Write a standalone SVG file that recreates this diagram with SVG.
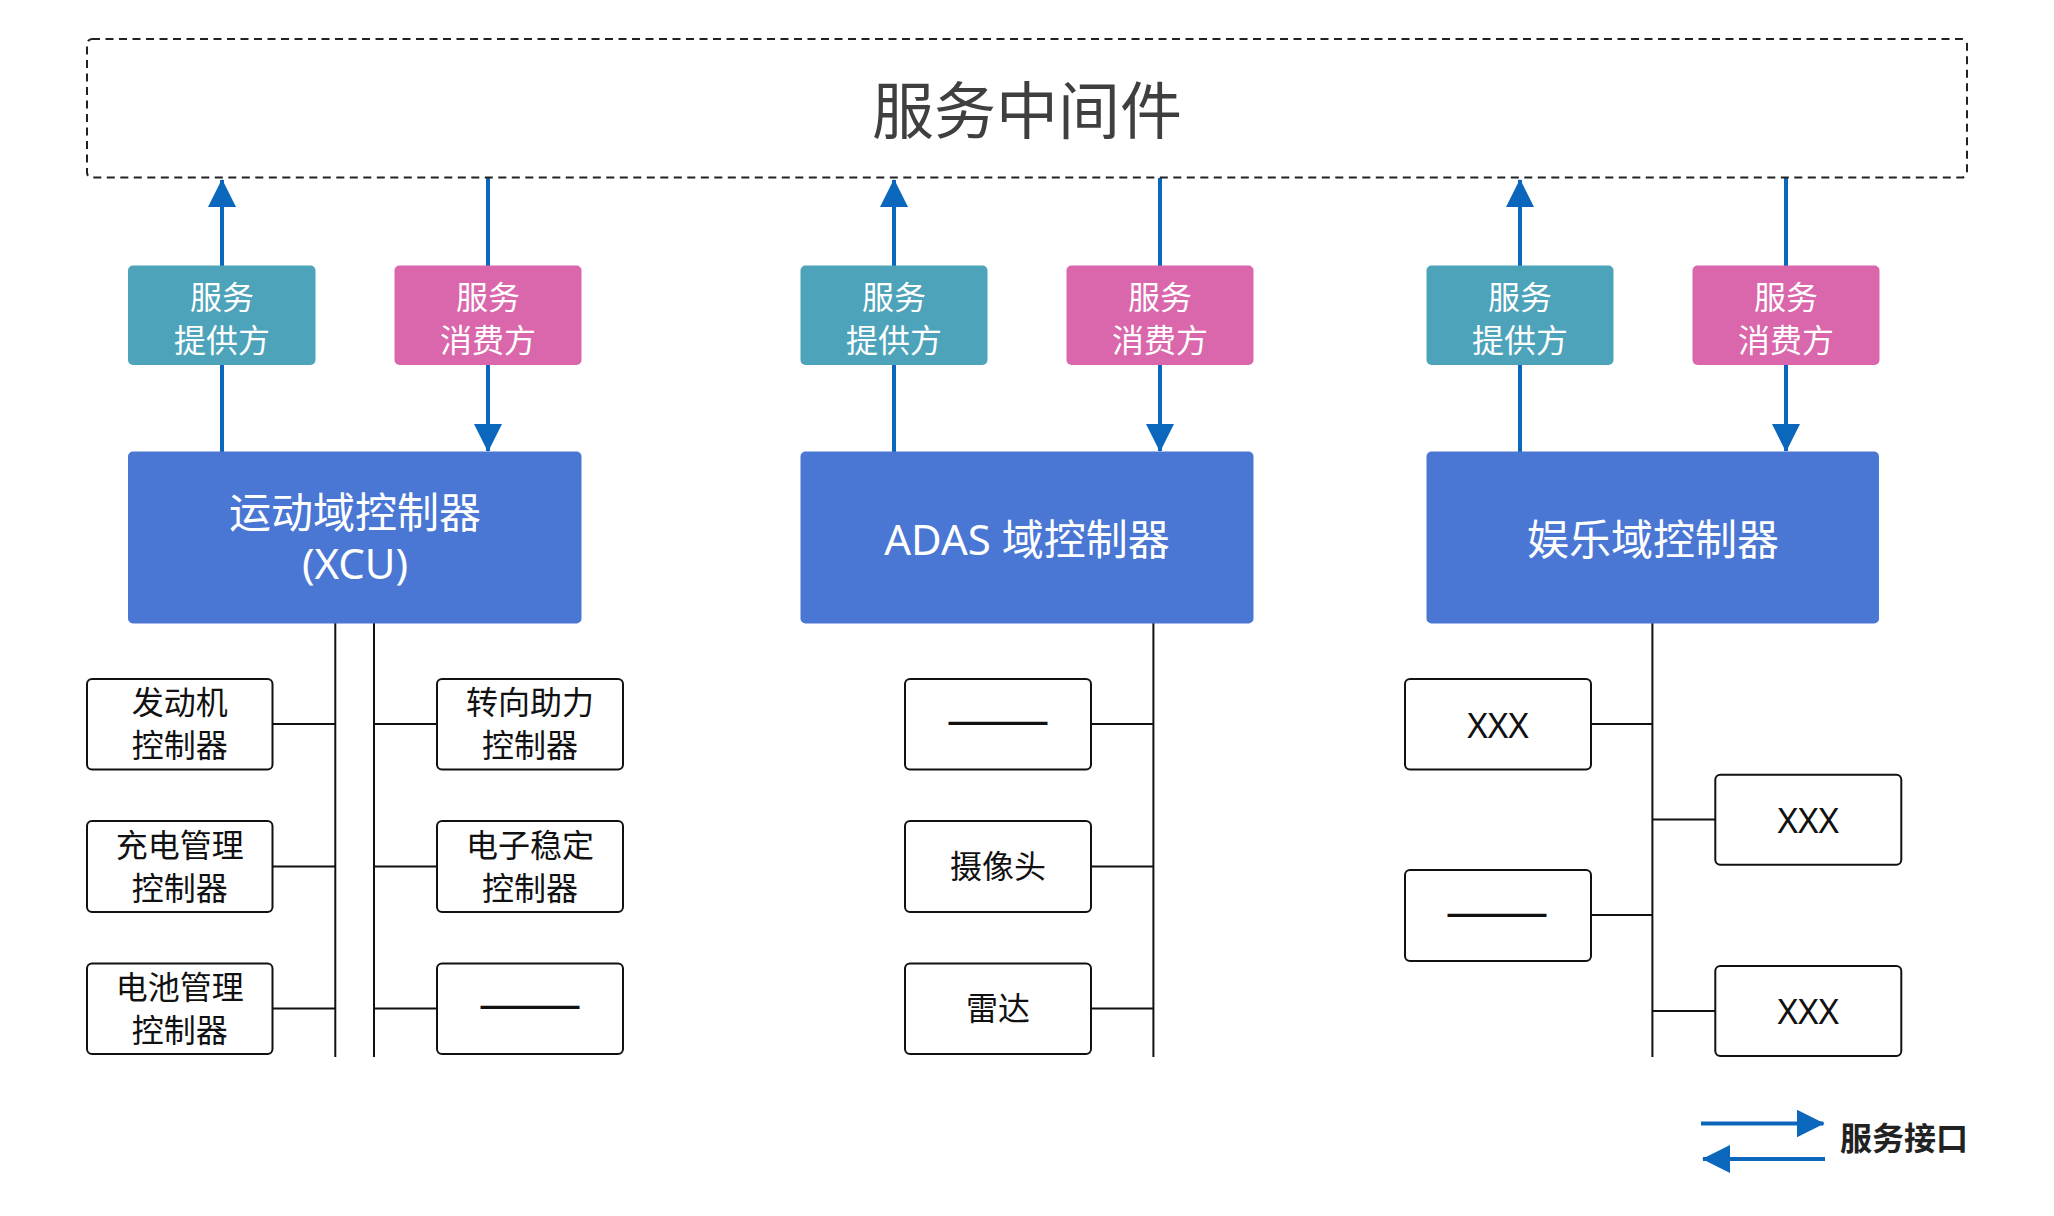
<svg xmlns="http://www.w3.org/2000/svg" width="2054" height="1216" viewBox="0 0 2054 1216">
<defs>
<style>
text{font-family:"Noto Sans","Noto Sans CJK SC","DejaVu Sans",sans-serif;text-anchor:middle}
.t-title{font-size:62px;fill:#3f3f3f;font-family:"Noto Sans CJK SC",sans-serif}
.t-tag{font-size:32px;fill:#ffffff;font-family:"Noto Sans CJK SC",sans-serif}
.t-ctl{font-size:42px;fill:#ffffff}
.t-box{font-size:32px;fill:#111111}
.t-xxx{font-size:35px;fill:#111111}
.t-dash{font-size:34px;fill:#111111;font-weight:bold;font-family:"Noto Sans CJK SC",sans-serif}
.t-leg{font-size:32px;fill:#222222;font-weight:bold;font-family:"Noto Sans CJK SC",sans-serif}
.prov{fill:#4da3b9}
.cons{fill:#da67ab}
.ctl{fill:#4a77d4}
.box{fill:#ffffff;stroke:#111111;stroke-width:2}
.svc{stroke:#0a67bc;stroke-width:4;fill:none}
.bus{stroke:#111111;stroke-width:2;fill:none}
</style>
<marker id="ah" markerUnits="userSpaceOnUse" markerWidth="28" markerHeight="28" viewBox="0 0 28 28" refX="27" refY="14" orient="auto">
<path d="M0,0 L28,14 L0,28 Z" fill="#0a67bc"/>
</marker>
</defs>
<rect width="2054" height="1216" fill="#ffffff"/>

<g id="connectors">
<line class="svc" x1="222" y1="452" x2="222" y2="180" marker-end="url(#ah)"/>
<line class="svc" x1="488" y1="178" x2="488" y2="451" marker-end="url(#ah)"/>
<line class="svc" x1="894" y1="452" x2="894" y2="180" marker-end="url(#ah)"/>
<line class="svc" x1="1160" y1="178" x2="1160" y2="451" marker-end="url(#ah)"/>
<line class="svc" x1="1520" y1="452" x2="1520" y2="180" marker-end="url(#ah)"/>
<line class="svc" x1="1786" y1="178" x2="1786" y2="451" marker-end="url(#ah)"/>
<line class="bus" x1="335.3" y1="623" x2="335.3" y2="1057"/>
<line class="bus" x1="374" y1="623" x2="374" y2="1057"/>
<line class="bus" x1="272.5" y1="724" x2="335.3" y2="724"/>
<line class="bus" x1="272.5" y1="866.5" x2="335.3" y2="866.5"/>
<line class="bus" x1="272.5" y1="1008.5" x2="335.3" y2="1008.5"/>
<line class="bus" x1="374" y1="724" x2="437" y2="724"/>
<line class="bus" x1="374" y1="866.5" x2="437" y2="866.5"/>
<line class="bus" x1="374" y1="1008.5" x2="437" y2="1008.5"/>
<line class="bus" x1="1153.4" y1="623" x2="1153.4" y2="1057"/>
<line class="bus" x1="1091" y1="724" x2="1153.4" y2="724"/>
<line class="bus" x1="1091" y1="866.5" x2="1153.4" y2="866.5"/>
<line class="bus" x1="1091" y1="1008.5" x2="1153.4" y2="1008.5"/>
<line class="bus" x1="1652.4" y1="623" x2="1652.4" y2="1057"/>
<line class="bus" x1="1591" y1="724" x2="1652.4" y2="724"/>
<line class="bus" x1="1652.4" y1="819.5" x2="1715.3" y2="819.5"/>
<line class="bus" x1="1591" y1="915" x2="1652.4" y2="915"/>
<line class="bus" x1="1652.4" y1="1011" x2="1715.3" y2="1011"/>
</g>

<g id="middleware">
<rect x="87" y="39" width="1880" height="138.5" rx="5" fill="none" stroke="#222222" stroke-width="2" stroke-dasharray="8 5.5"/>
<text class="t-title" x="1027" y="134">服务中间件</text>
</g>

<g id="provider-1"><rect class="prov" x="128" y="265.5" width="187.5" height="99.5" rx="5"/><text class="t-tag"><tspan x="222" y="309">服务</tspan><tspan x="222" y="352">提供方</tspan></text></g>
<g id="consumer-1"><rect class="cons" x="394.5" y="265.5" width="187" height="99.5" rx="5"/><text class="t-tag"><tspan x="488" y="309">服务</tspan><tspan x="488" y="352">消费方</tspan></text></g>
<g id="provider-2"><rect class="prov" x="800.5" y="265.5" width="187" height="99.5" rx="5"/><text class="t-tag"><tspan x="894" y="309">服务</tspan><tspan x="894" y="352">提供方</tspan></text></g>
<g id="consumer-2"><rect class="cons" x="1066.5" y="265.5" width="187" height="99.5" rx="5"/><text class="t-tag"><tspan x="1160" y="309">服务</tspan><tspan x="1160" y="352">消费方</tspan></text></g>
<g id="provider-3"><rect class="prov" x="1426.5" y="265.5" width="187" height="99.5" rx="5"/><text class="t-tag"><tspan x="1520" y="309">服务</tspan><tspan x="1520" y="352">提供方</tspan></text></g>
<g id="consumer-3"><rect class="cons" x="1692.5" y="265.5" width="187" height="99.5" rx="5"/><text class="t-tag"><tspan x="1786" y="309">服务</tspan><tspan x="1786" y="352">消费方</tspan></text></g>

<g id="ctl-xcu"><rect class="ctl" x="128" y="451.5" width="453.5" height="172" rx="5"/><text class="t-ctl"><tspan x="355" y="528">运动域控制器</tspan><tspan x="355" y="579">(XCU)</tspan></text></g>
<g id="ctl-adas"><rect class="ctl" x="800.5" y="451.5" width="453" height="172" rx="5"/><text class="t-ctl" x="1027" y="555">ADAS 域控制器</text></g>
<g id="ctl-ent"><rect class="ctl" x="1426.5" y="451.5" width="452.5" height="172" rx="5"/><text class="t-ctl" x="1653" y="555">娱乐域控制器</text></g>

<g id="engine-ecu"><rect class="box" x="87" y="679" width="185.5" height="90.5" rx="5"/><text class="t-box"><tspan x="179.7" y="714">发动机</tspan><tspan x="179.7" y="757">控制器</tspan></text></g>
<g id="charge-ecu"><rect class="box" x="87" y="821" width="185.5" height="91" rx="5"/><text class="t-box"><tspan x="179.7" y="856.5">充电管理</tspan><tspan x="179.7" y="899.5">控制器</tspan></text></g>
<g id="battery-ecu"><rect class="box" x="87" y="963.5" width="185.5" height="90.5" rx="5"/><text class="t-box"><tspan x="179.7" y="998.5">电池管理</tspan><tspan x="179.7" y="1041.5">控制器</tspan></text></g>
<g id="steer-ecu"><rect class="box" x="437" y="679" width="186" height="90.5" rx="5"/><text class="t-box"><tspan x="530" y="714">转向助力</tspan><tspan x="530" y="757">控制器</tspan></text></g>
<g id="esc-ecu"><rect class="box" x="437" y="821" width="186" height="91" rx="5"/><text class="t-box"><tspan x="530" y="856.5">电子稳定</tspan><tspan x="530" y="899.5">控制器</tspan></text></g>
<g id="xcu-other"><rect class="box" x="437" y="963.5" width="186" height="90.5" rx="5"/><text class="t-dash" x="530" y="1017" textLength="103" lengthAdjust="spacingAndGlyphs">———</text></g>

<g id="adas-other"><rect class="box" x="905" y="679" width="186" height="90.5" rx="5"/><text class="t-dash" x="998" y="733" textLength="103" lengthAdjust="spacingAndGlyphs">———</text></g>
<g id="camera"><rect class="box" x="905" y="821" width="186" height="91" rx="5"/><text class="t-box" x="998" y="878">摄像头</text></g>
<g id="radar"><rect class="box" x="905" y="963.5" width="186" height="90.5" rx="5"/><text class="t-box" x="998" y="1020">雷达</text></g>

<g id="ent-a"><rect class="box" x="1405" y="679" width="186" height="90.5" rx="5"/><text class="t-xxx" x="1498" y="737.5">XXX</text></g>
<g id="ent-b"><rect class="box" x="1715.3" y="774.7" width="186" height="90" rx="5"/><text class="t-xxx" x="1808.3" y="832.5">XXX</text></g>
<g id="ent-c"><rect class="box" x="1405" y="870" width="186" height="91" rx="5"/><text class="t-dash" x="1497" y="924.5" textLength="103" lengthAdjust="spacingAndGlyphs">———</text></g>
<g id="ent-d"><rect class="box" x="1715.3" y="966" width="186" height="90" rx="5"/><text class="t-xxx" x="1808.3" y="1023.5">XXX</text></g>

<g id="legend">
<line class="svc" x1="1701" y1="1123.5" x2="1823.5" y2="1123.5" marker-end="url(#ah)"/>
<line class="svc" x1="1825" y1="1159" x2="1703" y2="1159" marker-end="url(#ah)"/>
<text class="t-leg" x="1904" y="1150">服务接口</text>
</g>
</svg>
